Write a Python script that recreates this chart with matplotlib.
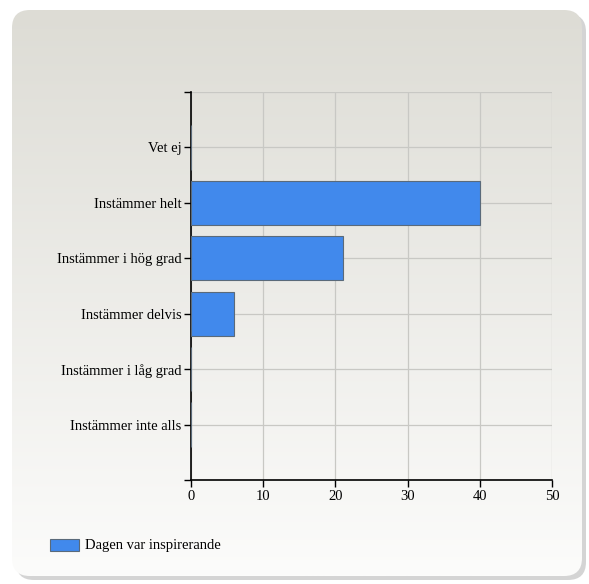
import matplotlib
matplotlib.use("Agg")
import matplotlib.pyplot as plt
import numpy as np
from matplotlib.patches import FancyBboxPatch, Rectangle

categories = ["Instämmer inte alls", "Instämmer i låg grad", "Instämmer delvis",
              "Instämmer i hög grad", "Instämmer helt", "Vet ej"]
values = [0, 0, 6, 21, 40, 0]
series_name = "Dagen var inspirerande"
xticks = [0, 10, 20, 30, 40, 50]

W, H = 589, 584
fig = plt.figure(figsize=(W / 100, H / 100), dpi=100)
plt.rcParams['font.family'] = ['Liberation Serif', 'DejaVu Serif']

# background panel with gradient and rounded corners
bg = fig.add_axes([0, 0, 1, 1])
bg.set_xlim(0, W)
bg.set_ylim(H, 0)
bg.axis("off")
shadow = FancyBboxPatch((16, 14), 570, 566, boxstyle="round,pad=0,rounding_size=18",
                        fc="#b8b8b8", ec="none", alpha=0.6)
bg.add_patch(shadow)
panel = FancyBboxPatch((12, 10), 570, 566, boxstyle="round,pad=0,rounding_size=18",
                       fc="none", ec="none")
bg.add_patch(panel)
grad = np.linspace(0, 1, 256).reshape(-1, 1)
top = np.array([0xdd, 0xdc, 0xd5]) / 255
bot = np.array([0xfc, 0xfc, 0xfb]) / 255
img = top + (bot - top) * grad[..., None]
im = bg.imshow(img, extent=[12, 582, 576, 10], aspect="auto", zorder=1)
im.set_clip_path(panel)

# plot area
x0, x1, y0, y1 = 191, 552, 92, 480
ax = fig.add_axes([x0 / W, 1 - y1 / H, (x1 - x0) / W, (y1 - y0) / H])
ax.patch.set_alpha(0)
ypos = np.arange(len(categories))
ax.barh(ypos, values, height=0.8, color="#4189ec", edgecolor="#5a6a7a", linewidth=0.8, zorder=3)
ax.set_xlim(0, 50)
ax.set_ylim(-1, 6)
ax.set_xticks(xticks)
ax.set_yticks(np.arange(-1, 7))
ax.set_yticklabels([""] + categories + [""])
ax.grid(True, color="#c8c8c4", linewidth=0.9, zorder=0)
for s in ["top", "right"]:
    ax.spines[s].set_visible(False)
ax.spines["left"].set_linewidth(1.2)
ax.spines["bottom"].set_linewidth(1.2)
ax.tick_params(axis="both", length=5, width=1, labelsize=10.5, colors="black")
ax.tick_params(axis="y", pad=2)
ax.tick_params(axis="x", pad=2)

# legend
bg.add_patch(Rectangle((50, 539), 29, 12, fc="#4189ec", ec="#5a6a7a", lw=0.8, zorder=3))
bg.text(85, 545.5, series_name, fontsize=10.5, va="center", ha="left", zorder=3)

fig.savefig("out.png", dpi=100)
